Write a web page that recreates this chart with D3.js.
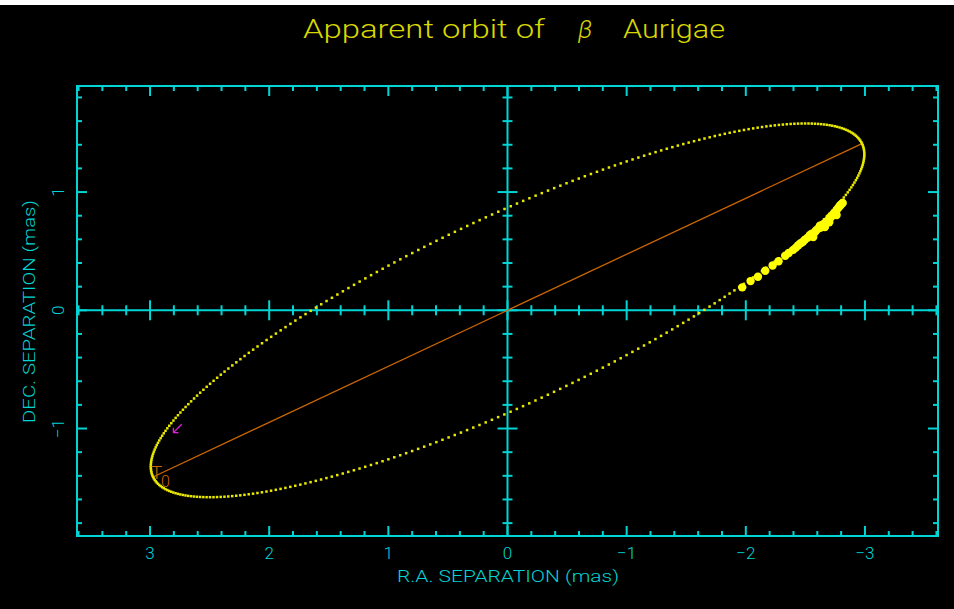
<!DOCTYPE html>
<html>
<head>
<meta charset="utf-8">
<script src="https://cdn.jsdelivr.net/npm/d3@7"></script>
<style>
  html, body { margin: 0; padding: 0; background: #000; }
  svg { display: block; }
  text { font-family: Roboto, "DejaVu Sans", sans-serif; font-weight: 300; }
</style>
</head>
<body>
<svg id="chart" width="954" height="609"></svg>
<script>
// ---- data ----
const xTickLabels = [3, 2, 1, 0, -1, -2, -3];
const yTickLabels = [1, 0, -1];
const xDomain = [3.613, -3.613];          // R.A. separation (mas), east to the left
const yDomain = [-1.909, 1.897];          // Dec. separation (mas)
// projected orbit: end of major axis at T0 and projected semi-minor axis (mas)
const orbitT0End = [2.975, -1.41];
const orbitSemiMinor = [0.79];
const orbitSamples = [360];
// observed positions (mas)
const obsRA  = [-1.970, -2.040, -2.102, -2.163, -2.225, -2.275, -2.331, -2.360, -2.398, -2.420,
                -2.440, -2.460, -2.480, -2.497, -2.520, -2.538, -2.550, -2.566, -2.580, -2.590,
                -2.608, -2.622, -2.630, -2.645, -2.660, -2.664, -2.678, -2.690, -2.700, -2.706,
                -2.706, -2.720, -2.734, -2.750, -2.762, -2.762, -2.775, -2.790, -2.789, -2.800,
                -2.813];
const obsDec = [ 0.194,  0.247,  0.284,  0.334,  0.379,  0.415,  0.461,  0.485,  0.511,  0.530,
                 0.550,  0.567,  0.580,  0.598,  0.615,  0.636,  0.645,  0.620,  0.662,  0.675,
                 0.691,  0.716,  0.700,  0.721,  0.735,  0.704,  0.749,  0.760,  0.745,  0.777,
                 0.786,  0.795,  0.814,  0.830,  0.848,  0.805,  0.865,  0.882,  0.885,  0.895,
                 0.907];
// direction-of-motion arrow (mas): tail, tip
const arrowRA  = [2.734, 2.804];
const arrowDec = [-0.964, -1.035];

// ---- layout ----
const svg = d3.select("#chart");
const L = 77, R = 938, T = 86, B = 536;
const x = d3.scaleLinear().domain(xDomain).range([L, R]);
const y = d3.scaleLinear().domain(yDomain).range([B, T]);
const CYAN = "#00d4d4", YEL = "#e8e800", ORG = "#cc6600", MAG = "#e020e0";

svg.append("rect").attr("width", 954).attr("height", 609).attr("fill", "#000");
svg.append("rect").attr("width", 954).attr("height", 5).attr("fill", "#fff");

// title
const tg = svg.append("g").attr("fill", "#d8d800").attr("font-size", 25);
tg.append("text").attr("x", 303).attr("y", 38).attr("textLength", 242).attr("lengthAdjust", "spacingAndGlyphs").text("Apparent orbit of");
tg.append("text").attr("x", 578).attr("y", 38).attr("textLength", 15).attr("font-style", "italic").text("β");
tg.append("text").attr("x", 623).attr("y", 38).attr("textLength", 102).attr("lengthAdjust", "spacingAndGlyphs").text("Aurigae");

// ticks
const ax = svg.append("g").attr("stroke", CYAN).attr("stroke-width", 2).attr("fill", "none");
const xt = x.ticks(36).filter(v => Math.abs(v) <= 3.61);
const yt = y.ticks(19).filter(v => Math.abs(v) <= 1.81);
const isMaj = v => Math.abs(v - Math.round(v)) < 1e-6;
const len = v => isMaj(v) ? 10 : 5;
xt.forEach(v => {
  const px = x(v);
  ax.append("line").attr("x1", px).attr("x2", px).attr("y1", B).attr("y2", B - len(v));
  ax.append("line").attr("x1", px).attr("x2", px).attr("y1", T).attr("y2", T + len(v));
  ax.append("line").attr("x1", px).attr("x2", px).attr("y1", y(0) - len(v)).attr("y2", y(0) + len(v));
});
yt.forEach(v => {
  const py = y(v);
  ax.append("line").attr("x1", L).attr("x2", L + len(v)).attr("y1", py).attr("y2", py);
  ax.append("line").attr("x1", R).attr("x2", R - len(v)).attr("y1", py).attr("y2", py);
  ax.append("line").attr("x1", x(0) - len(v)).attr("x2", x(0) + len(v)).attr("y1", py).attr("y2", py);
});
ax.append("rect").attr("x", L).attr("y", T).attr("width", R - L).attr("height", B - T);
ax.append("line").attr("x1", L).attr("x2", R).attr("y1", y(0)).attr("y2", y(0));
ax.append("line").attr("x1", x(0)).attr("x2", x(0)).attr("y1", T).attr("y2", B);

// tick labels
const lab = svg.append("g").attr("fill", CYAN).attr("font-size", 17);
xTickLabels.forEach(v => {
  lab.append("text").attr("x", x(v)).attr("y", 559).attr("text-anchor", "middle")
     .text(v < 0 ? "\u2212" + Math.abs(v) : String(v));
});
yTickLabels.forEach(v => {
  lab.append("text").attr("transform", `translate(64,${y(v)}) rotate(-90)`).attr("text-anchor", "middle")
     .text(v < 0 ? "\u2212" + Math.abs(v) : String(v));
});
lab.append("text").attr("x", 397).attr("y", 582).attr("textLength", 222).attr("lengthAdjust", "spacingAndGlyphs")
   .text("R.A. SEPARATION (mas)");
lab.append("text").attr("transform", "translate(35,423) rotate(-90)").attr("textLength", 223).attr("lengthAdjust", "spacingAndGlyphs")
   .text("DEC. SEPARATION (mas)");

// line of apsides through the primary
svg.append("line").attr("x1", x(orbitT0End[0])).attr("y1", y(orbitT0End[1]))
   .attr("x2", x(-orbitT0End[0])).attr("y2", y(-orbitT0End[1]))
   .attr("stroke", ORG).attr("stroke-width", 1.3);

// orbit model points
const A = Math.hypot(orbitT0End[0], orbitT0End[1]);
const u = [orbitT0End[0] / A, orbitT0End[1] / A];
const n = [-u[1], u[0]];
const orbit = d3.range(orbitSamples[0]).map(i => {
  const ph = 2 * Math.PI * i / orbitSamples[0];
  return [A * Math.cos(ph) * u[0] + orbitSemiMinor[0] * Math.sin(ph) * n[0],
          A * Math.cos(ph) * u[1] + orbitSemiMinor[0] * Math.sin(ph) * n[1]];
});
svg.append("g").selectAll("rect").data(orbit).join("rect")
   .attr("x", d => x(d[0]) - 1.2).attr("y", d => y(d[1]) - 1.2).attr("width", 2.5).attr("height", 2.5)
   .attr("fill", YEL);

// observations
svg.append("g").selectAll("circle").data(obsRA.map((v, i) => [v, obsDec[i]])).join("circle")
   .attr("cx", d => x(d[0])).attr("cy", d => y(d[1])).attr("r", 4.2).attr("fill", "#ffff00");

// T0 label
svg.append("text").attr("x", x(orbitT0End[0]) - 2).attr("y", 479).attr("fill", ORG).attr("font-size", 19)
   .attr("font-weight", 400).text("T");
svg.append("text").attr("x", x(orbitT0End[0]) + 8).attr("y", 487).attr("fill", ORG).attr("font-size", 16)
   .attr("font-weight", 400).text("0");

// direction arrow
const ag = svg.append("g").attr("stroke", MAG).attr("stroke-width", 1.3);
const tx = x(arrowRA[1]), ty = y(arrowDec[1]);
ag.append("line").attr("x1", x(arrowRA[0])).attr("y1", y(arrowDec[0])).attr("x2", tx).attr("y2", ty);
ag.append("line").attr("x1", tx).attr("y1", ty).attr("x2", tx + 5).attr("y2", ty);
ag.append("line").attr("x1", tx).attr("y1", ty).attr("x2", tx).attr("y2", ty - 5);
</script>
</body>
</html>
